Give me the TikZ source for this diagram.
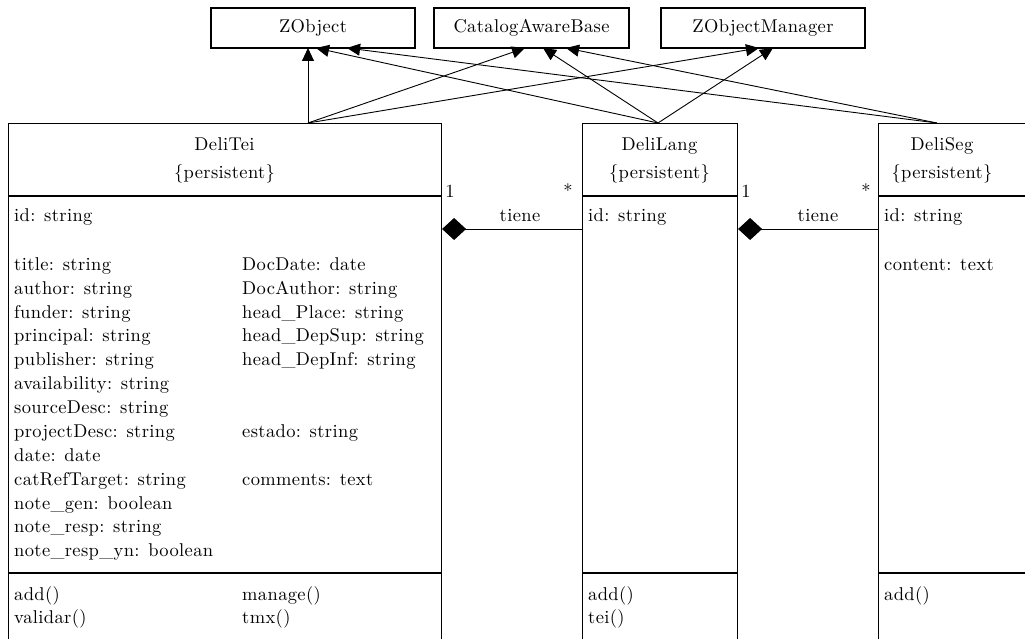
\documentclass[tikz,border=0pt]{standalone}
\usepackage{fontspec}
\setmainfont{lmroman10-regular.otf}[LetterSpace=2]
\usetikzlibrary{arrows.meta}
\begin{document}
\begin{tikzpicture}[x=1pt,y=-1pt,
  tx/.style={font=\fontsize{18.5}{22}\selectfont, inner sep=0pt},
  attr/.style={tx, anchor=base west},
  hdr/.style={tx, anchor=base},
  topbox/.style={draw, line width=1.1pt, minimum height=40pt, inner sep=0pt,
    font=\fontsize{18.5}{22}\selectfont, text height=13pt, text depth=3pt},
  classbox/.style={draw, line width=1.1pt, anchor=north west, inner sep=0pt},
  gen/.style={line width=0.9pt, -{Triangle[length=13pt,width=12pt]}},
  assoc/.style={line width=0.9pt, {Diamond[length=24pt,width=22pt]}-},
  div/.style={line width=1.1pt},
  opsdiv/.style={line width=2.4pt}]
\useasboundingbox (0,0) rectangle (1025,639);
\clip (0,0) rectangle (1025,639);
\fill[white] (0,0) rectangle (1025,639);

% top classes
\node[topbox, minimum width=204pt] (zobj) at (313,28) {ZObject};
\node[topbox, minimum width=195pt] (cab) at (531.5,28) {CatalogAwareBase};
\node[topbox, minimum width=204pt] (zom) at (763,28) {ZObjectManager};

% class boxes
\node[classbox, minimum width=433pt, minimum height=600pt] (tei) at (8,123) {};
\node[classbox, minimum width=155pt, minimum height=600pt] (lang) at (582,123) {};
\node[classbox, minimum width=220pt, minimum height=600pt] (seg) at (878,123) {};

\foreach \b in {tei,lang,seg}{
  \draw[div] (\b.north west |- 0,196) -- (\b.north east |- 0,196);
  \draw[opsdiv] (\b.north west |- 0,573) -- (\b.north east |- 0,573);
}

% headers
\node[hdr] (teiN) at (224.5,151) {DeliTei};
\node[hdr] (teiP) at (224.5,179) {\{persistent\}};
\node[hdr] (langN) at (659.5,151) {DeliLang};
\node[hdr] (langP) at (659.5,179) {\{persistent\}};
\node[hdr] (segN) at (942,151) {DeliSeg};
\node[hdr] (segP) at (942,179) {\{persistent\}};

% DeliTei attributes
\foreach \y/\t [count=\i] in {222/id: string, 270/title: string, 294/author: string,
  318/funder: string, 341.5/principal: string, 365/publisher: string,
  389/availability: string, 413/sourceDesc: string, 437/projectDesc: string,
  461/date: date, 485/catRefTarget: string, 509/note\_gen: boolean,
  532.5/note\_resp: string, 556/note\_resp\_yn: boolean, 600/add(), 623/validar()}
  \node[attr] (teiA\i) at (14,\y) {\t};
\foreach \y/\t [count=\i] in {270/DocDate: date, 294/DocAuthor: string,
  318/head\_Place: string, 341.5/head\_DepSup: string, 365/head\_DepInf: string,
  437/estado: string, 485/comments: text, 600/manage(), 623/tmx()}
  \node[attr] (teiB\i) at (242,\y) {\t};

% DeliLang
\node[attr] (langA1) at (588,222) {id: string};
\node[attr] (langO1) at (588,600) {add()};
\node[attr] (langO2) at (588,623) {tei()};

% DeliSeg
\node[attr] (segA1) at (884,222) {id: string};
\node[attr] (segA2) at (884,270) {content: text};
\node[attr] (segO1) at (884,600) {add()};

% generalization connectors
\coordinate (teiTop) at (308,123);
\coordinate (langTop) at (658,123);
\coordinate (segTop) at (937,123);
\coordinate (zobj1) at (308,48);
\coordinate (zobj2) at (316,48);
\coordinate (zobj3) at (347,48);
\coordinate (cab1) at (525,48);
\coordinate (cab2) at (543,48);
\coordinate (cab3) at (566,48);
\coordinate (zom1) at (759,48);
\coordinate (zom2) at (773,48);
\draw[gen] (teiTop) -- (zobj1);
\draw[gen] (teiTop) -- (cab1);
\draw[gen] (teiTop) -- (zom1);
\draw[gen] (langTop) -- (zobj2);
\draw[gen] (langTop) -- (cab2);
\draw[gen] (langTop) -- (zom2);
\draw[gen] (segTop) -- (zobj3);
\draw[gen] (segTop) -- (cab3);

% associations
\coordinate (ay) at (0,229);
\draw[assoc] (tei.east |- ay) -- (lang.west |- ay);
\draw[assoc] (lang.east |- ay) -- (seg.west |- ay);
\node[hdr] (m1a) at (450,197) {1};
\node[hdr] (m1b) at (568,197) {*};
\node[hdr] (r1) at (520,222) {tiene};
\node[hdr] (m2a) at (746,197) {1};
\node[hdr] (m2b) at (866,197) {*};
\node[hdr] (r2) at (818,222) {tiene};
\end{tikzpicture}
\end{document}
